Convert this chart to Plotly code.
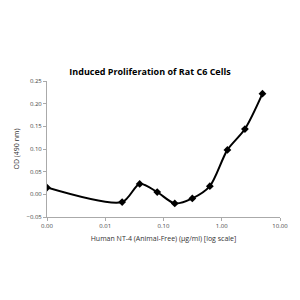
import plotly.graph_objects as go

conc = [0.001, 0.0195, 0.039, 0.078, 0.156, 0.3125, 0.625, 1.25, 2.5, 5.0]
od = [0.015, -0.017, 0.023, 0.005, -0.020, -0.009, 0.018, 0.098, 0.144, 0.222]
xtick_vals = [0.001, 0.01, 0.1, 1, 10]
xtick_text = ["0.00", "0.01", "0.10", "1.00", "10.00"]
ytick_vals = [-0.05, 0.0, 0.05, 0.10, 0.15, 0.20, 0.25]

fig = go.Figure(go.Scatter(
    x=conc, y=od, mode="lines+markers",
    line=dict(color="black", width=2, shape="spline", smoothing=0.8),
    marker=dict(symbol="diamond", size=6, color="black"),
))
fig.update_layout(
    width=300, height=300,
    margin=dict(l=47, r=17, t=81, b=83),
    paper_bgcolor="white", plot_bgcolor="white",
    showlegend=False,
    title=dict(text="<b>Induced Proliferation of Rat C6 Cells</b>",
               x=0.5, xanchor="center", y=0.76, yanchor="middle",
               font=dict(family="Open Sans", size=9, color="black")),
    font=dict(family="Open Sans", color="#444"),
)
fig.update_xaxes(type="log", range=[-3, 1], tickvals=xtick_vals, ticktext=xtick_text,
                 showgrid=False, zeroline=False, showline=True, linecolor="#aaa", linewidth=1,
                 ticks="outside", ticklen=3, tickcolor="#aaa",
                 tickfont=dict(size=6, color="#444"),
                 title=dict(text="Human NT-4 (Animal-Free) (µg/ml) [log scale]",
                            font=dict(size=7, color="#333"), standoff=6))
fig.update_yaxes(range=[-0.05, 0.25], tickvals=ytick_vals, tickformat=".2f",
                 showgrid=False, zeroline=False, showline=True, linecolor="#aaa", linewidth=1,
                 ticks="outside", ticklen=3, tickcolor="#aaa",
                 tickfont=dict(size=6, color="#444"),
                 title=dict(text="OD (490 nm)", font=dict(size=7, color="#333"), standoff=6))
fig.write_html("out.html")
